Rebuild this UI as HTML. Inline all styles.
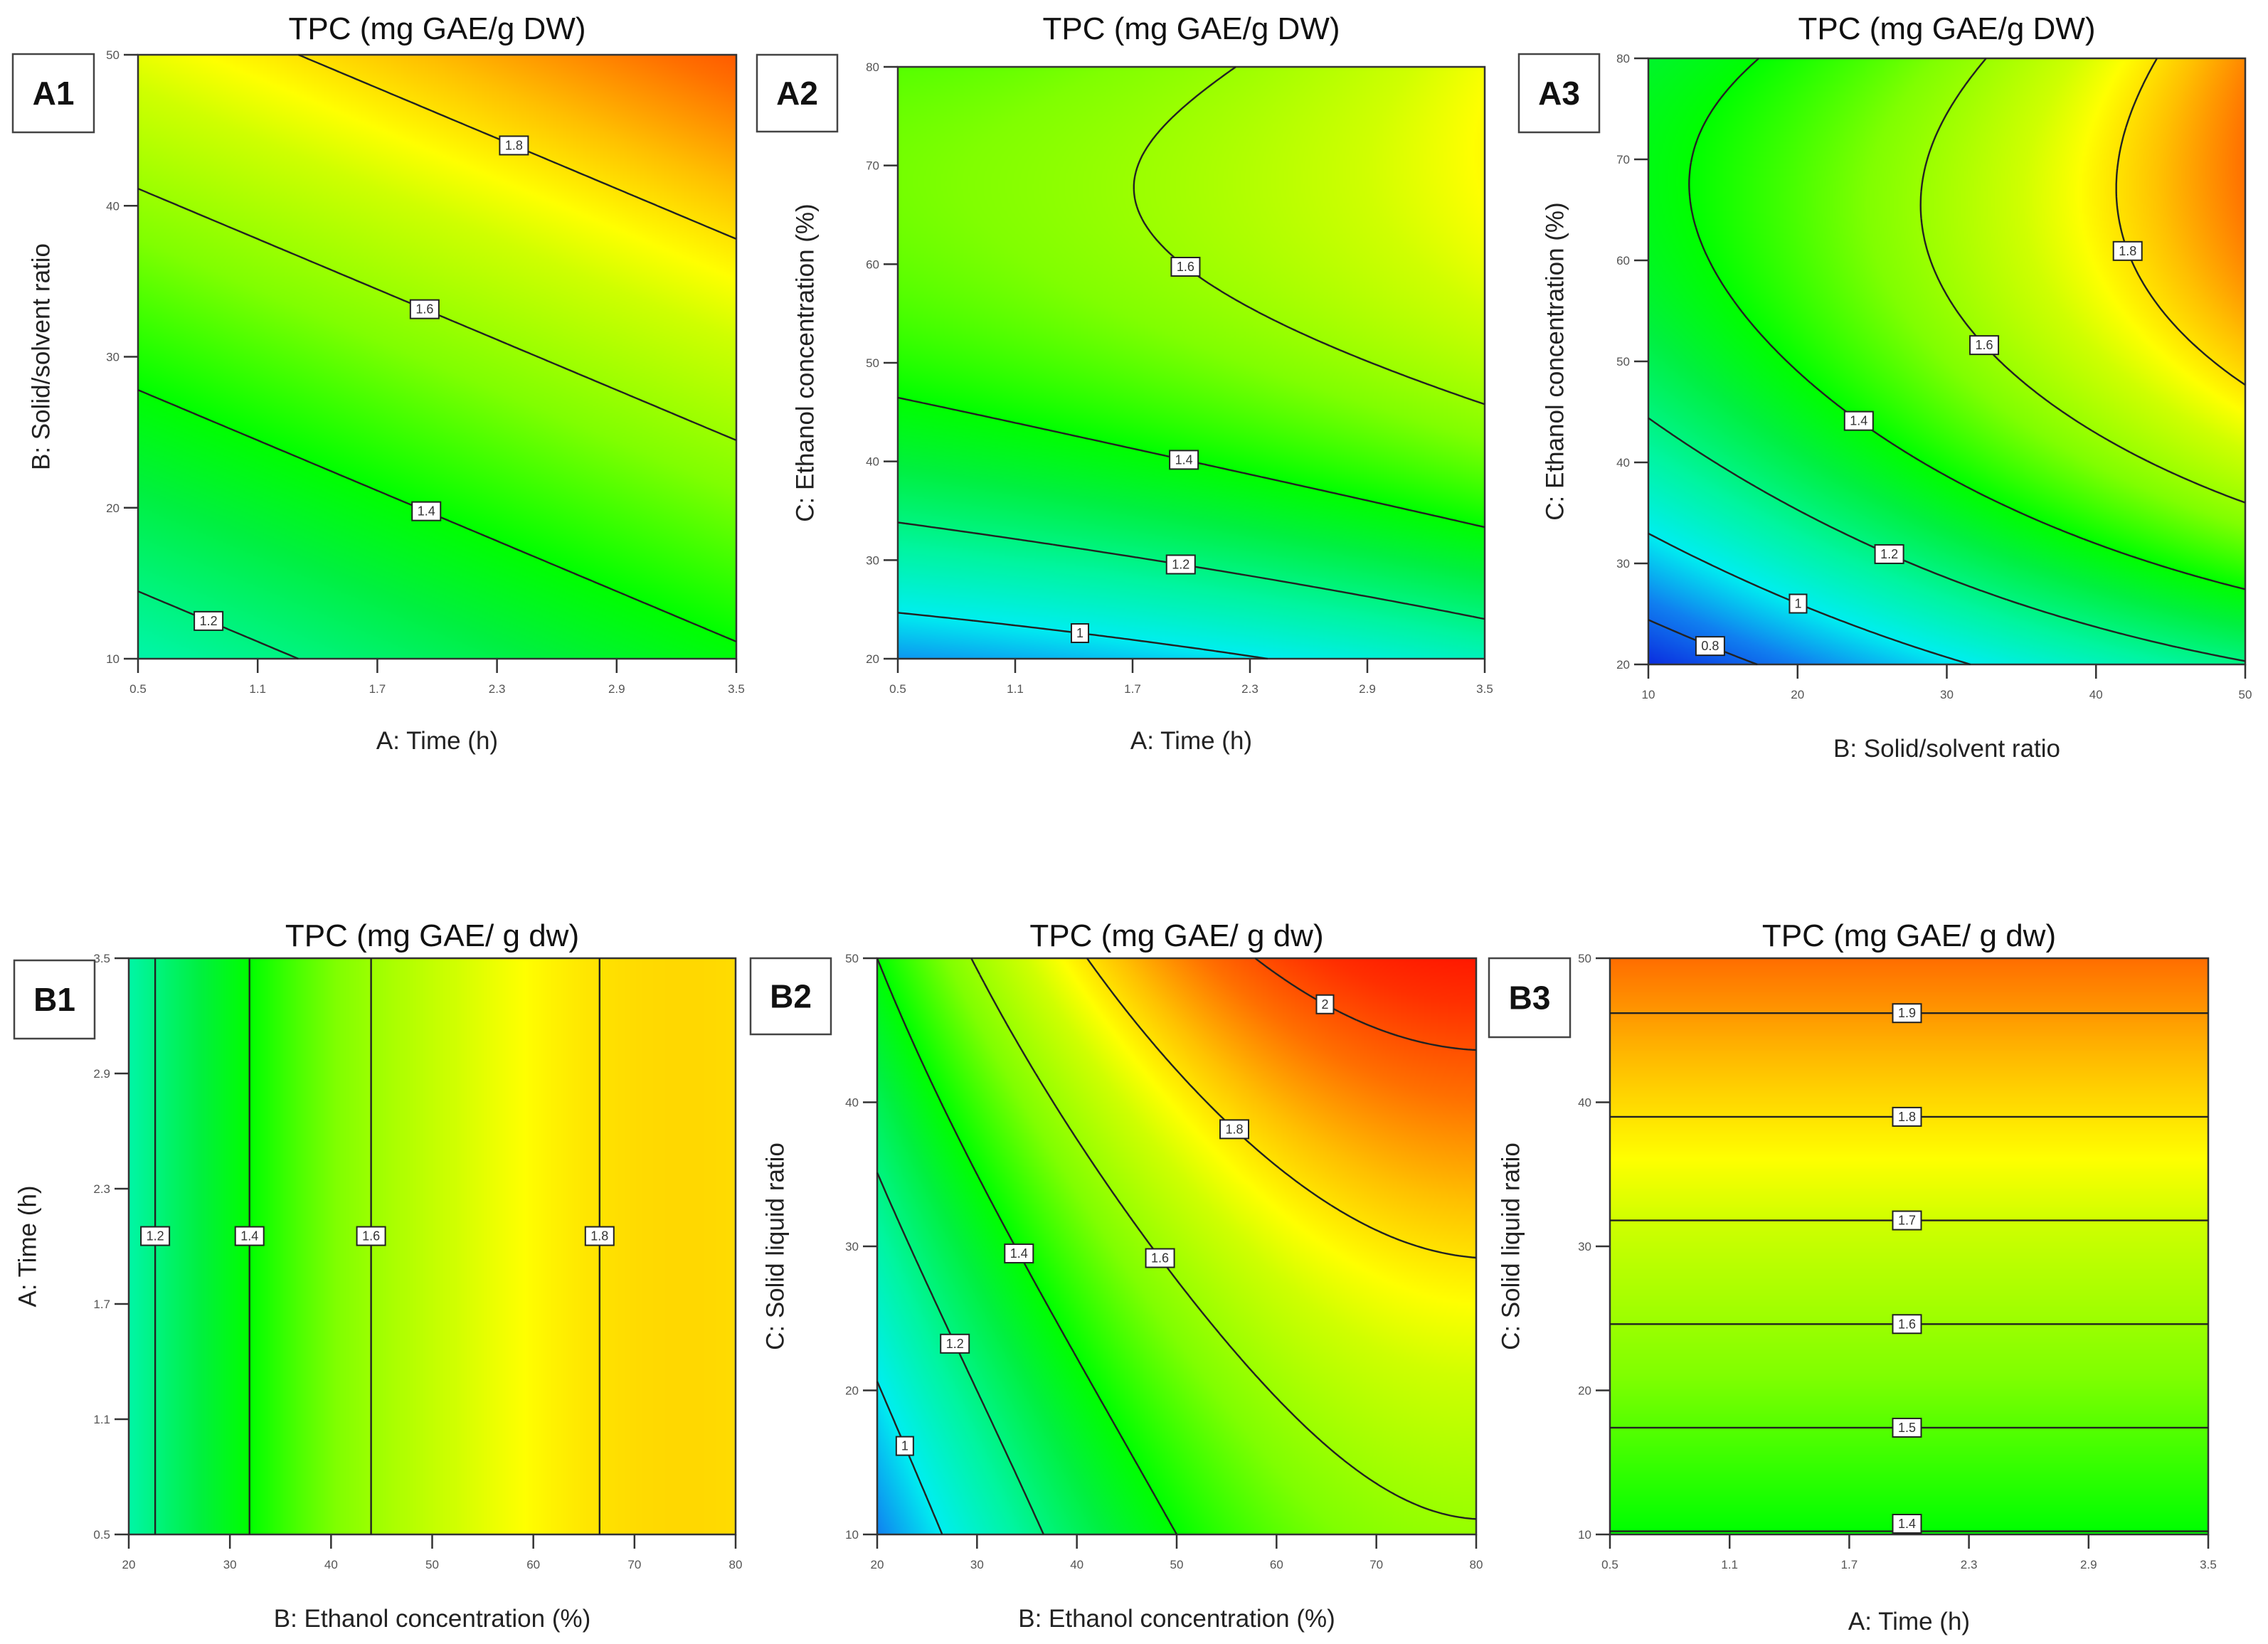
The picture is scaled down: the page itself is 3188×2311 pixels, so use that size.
<!DOCTYPE html>
<html><head><meta charset="utf-8">
<style>
html,body{margin:0;padding:0;background:#fff;}
#root{position:relative;width:3188px;height:2311px;overflow:hidden;background:#fff;font-family:"Liberation Sans",sans-serif;}
canvas{position:absolute;}
svg{position:absolute;left:0;top:0;}
</style></head>
<body>
<div id="root">
<svg id="svg" width="3188" height="2311"></svg>
</div>
<script>
// ---- data (response surface values on a 3x3 design grid: rows top(high y) -> bottom(low y), cols low x -> high x)
const a1Grid=[[1.733,1.858,1.983],[1.433,1.558,1.683],[1.133,1.258,1.383]];
const a2Grid=[[1.50,1.58,1.75],[1.44,1.53,1.65],[0.88,0.97,1.10]];
const a3Grid=[[1.33,1.56,1.92],[1.27,1.55,1.83],[0.68,0.98,1.19]];
const b1Grid=[[1.137,1.676,1.81],[1.137,1.676,1.81],[1.137,1.676,1.81]];
const b2Grid=[[1.40,1.92,2.10],[1.13,1.63,1.81],[0.85,1.40,1.59]];
const b3Grid=[[1.953,1.953,1.953],[1.675,1.675,1.675],[1.397,1.397,1.397]];
const a1Levels=[1.2,1.4,1.6,1.8];
const a2Levels=[1,1.2,1.4,1.6];
const a3Levels=[0.8,1,1.2,1.4,1.6,1.8];
const b1Levels=[1.2,1.4,1.6,1.8];
const b2Levels=[1,1.2,1.4,1.6,1.8,2];
const b3Levels=[1.4,1.5,1.6,1.7,1.8,1.9];
const timeTicks=["0.5","1.1","1.7","2.3","2.9","3.5"];
const ratioTicks=["10","20","30","40","50"];
const ethTicks=["20","30","40","50","60","70","80"];
const ethTicksA=["20","30","40","50","60","70","80"];

// ---- layout
const panels=[
 {id:"a1",grid:a1Grid,levels:a1Levels,xt:timeTicks,yt:ratioTicks,x0:194,x1:1035,y0:77,y1:926,box:[18,76,114,110],letter:"A1",
  title:"TPC (mg GAE/g DW)",tY:55,xTitle:"A: Time  (h)",xtY:1053,yTitle:"B: Solid/solvent ratio",ytX:58,
  hints:[[0.125,0.07],[0.484,0.256],[0.484,0.593],[0.634,0.868]]},
 {id:"a2",grid:a2Grid,levels:a2Levels,xt:timeTicks,yt:ethTicksA,x0:1262,x1:2087,y0:94,y1:926,box:[1064,77,113,108],letter:"A2",
  title:"TPC (mg GAE/g DW)",tY:55,xTitle:"A: Time  (h)",xtY:1053,yTitle:"C: Ethanol concentration (%)",ytX:1132,
  hints:[[0.313,0.064],[0.487,0.167],[0.487,0.332],[0.462,0.622]]},
 {id:"a3",grid:a3Grid,levels:a3Levels,xt:ratioTicks,yt:ethTicks,x0:2317,x1:3156,y0:82,y1:934,box:[2135,76,113,110],letter:"A3",
  title:"TPC (mg GAE/g DW)",tY:55,xTitle:"B: Solid/solvent ratio",xtY:1064,yTitle:"C: Ethanol concentration (%)",ytX:2186,
  hints:[[0.112,0.052],[0.262,0.123],[0.411,0.2],[0.358,0.414],[0.562,0.526],[0.789,0.679]]},
 {id:"b1",grid:b1Grid,levels:b1Levels,xt:ethTicks,yt:timeTicks,x0:181,x1:1034,y0:1347,y1:2157,box:[20,1350,113,110],letter:"B1",
  title:"TPC  (mg GAE/ g dw)",tY:1330,xTitle:"B: Ethanol concentration (%)",xtY:2287,yTitle:"A: Time (h)",ytX:39,
  hints:[[0.048,0.517],[0.2,0.517],[0.4,0.517],[0.771,0.517]]},
 {id:"b2",grid:b2Grid,levels:b2Levels,xt:ethTicks,yt:ratioTicks,x0:1233,x1:2075,y0:1347,y1:2157,box:[1055,1347,113,107],letter:"B2",
  title:"TPC  (mg GAE/ g dw)",tY:1330,xTitle:"B: Ethanol concentration (%)",xtY:2287,yTitle:"C: Solid liquid ratio",ytX:1090,
  hints:[[0.048,0.153],[0.123,0.329],[0.217,0.478],[0.443,0.454],[0.563,0.666],[0.736,0.891]]},
 {id:"b3",grid:b3Grid,levels:b3Levels,xt:timeTicks,yt:ratioTicks,x0:2263,x1:3104,y0:1347,y1:2157,box:[2093,1347,114,111],letter:"B3",
  title:"TPC  (mg GAE/ g dw)",tY:1330,xTitle:"A: Time (h)",xtY:2291,yTitle:"C: Solid liquid ratio",ytX:2124,
  hints:[[0.5,0.02],[0.5,0.186],[0.5,0.365],[0.5,0.545],[0.5,0.724],[0.5,0.9]]}
];

const stops=[[0.65,[10,30,220]],[0.85,[16,128,240]],[1.0,[0,238,240]],[1.15,[0,245,160]],[1.3,[0,240,64]],[1.4,[0,255,0]],
 [1.55,[128,255,0]],[1.7,[208,255,0]],[1.76,[255,255,0]],[1.85,[255,192,0]],[1.95,[255,112,0]],[2.05,[255,48,0]],[2.12,[255,16,0]]];
function color(v){
  if(v<=stops[0][0])return stops[0][1];
  for(let i=1;i<stops.length;i++){if(v<=stops[i][0]){const a=stops[i-1],b=stops[i];const t=(v-a[0])/(b[0]-a[0]);
    return [0,1,2].map(k=>a[1][k]+(b[1][k]-a[1][k])*t);}}
  return stops[stops.length-1][1];
}
function L(t){return [(t-0.5)*(t-1)/0.5, t*(t-1)/(-0.25), t*(t-0.5)/0.5];}
function surf(g,u,v){const lu=L(u),lv=L(v);let s=0;for(let i=0;i<3;i++)for(let j=0;j<3;j++)s+=lv[i]*lu[j]*g[2-i][j];return s;}

const NS="http://www.w3.org/2000/svg";
const svg=document.getElementById('svg');
const root=document.getElementById('root');
function mk(tag,attrs,parent){const e=document.createElementNS(NS,tag);for(const k in attrs)e.setAttribute(k,attrs[k]);(parent||svg).appendChild(e);return e;}

panels.forEach(p=>{
  const W=p.x1-p.x0,H=p.y1-p.y0;
  const g=mk('g',{});
  
  
  const cv=document.createElement('canvas');
  cv.width=Math.round(W/2);cv.height=Math.round(H/2);
  cv.style.left=p.x0+'px';cv.style.top=p.y0+'px';cv.style.width=W+'px';cv.style.height=H+'px';
  
  
  root.insertBefore(cv,svg);
  const ctx=cv.getContext('2d');const im=ctx.createImageData(cv.width,cv.height);
  for(let y=0;y<cv.height;y++)for(let x=0;x<cv.width;x++){
    const u=(x+0.5)/cv.width,v=1-(y+0.5)/cv.height;const c=color(surf(p.grid,u,v));const o=(y*cv.width+x)*4;
    im.data[o]=c[0];im.data[o+1]=c[1];im.data[o+2]=c[2];im.data[o+3]=255;}
  ctx.putImageData(im,0,0);
  const fr=mk('rect',{x:p.x0,y:p.y0,width:W,height:H,fill:'none',stroke:'#333','stroke-width':2.5},g);
  
  
  const N=140;const vals=[];
  for(let i=0;i<=N;i++){vals.push([]);for(let j=0;j<=N;j++)vals[i].push(surf(p.grid,j/N,1-i/N));}
  const px=j=>p.x0+j/N*W, py=i=>p.y0+i/N*H;
  p.levels.forEach((lv,li)=>{
    let d='';const segs=[];
    for(let i=0;i<N;i++){for(let j=0;j<N;j++){
      const c=[[i,j],[i,j+1],[i+1,j+1],[i+1,j]];const pts=[];
      for(let e=0;e<4;e++){const A=c[e],B=c[(e+1)%4];const va=vals[A[0]][A[1]],vb=vals[B[0]][B[1]];
        if((va<lv)!==(vb<lv)){const t=(lv-va)/(vb-va);pts.push([px(A[1]+(B[1]-A[1])*t),py(A[0]+(B[0]-A[0])*t)]);}}
      for(let k=0;k+1<pts.length;k+=2){segs.push([pts[k],pts[k+1]]);d+='M'+pts[k][0].toFixed(1)+' '+pts[k][1].toFixed(1)+'L'+pts[k+1][0].toFixed(1)+' '+pts[k+1][1].toFixed(1);}
    }}
    if(!d)return;
    const path=mk('path',{d:d,fill:'none',stroke:'#222','stroke-width':2.4},g);
    
    
    const h=p.hints[li];if(!h)return;
    const hx=p.x0+h[0]*W,hy=p.y1-h[1]*H;let best=null,bd=1e9;
    segs.forEach(s=>{const mx=(s[0][0]+s[1][0])/2,my=(s[0][1]+s[1][1])/2;const dd=(mx-hx)**2+(my-hy)**2;if(dd<bd){bd=dd;best=[mx,my];}});
    if(!best)return;
    const txt=String(lv);const bw=txt.length>1?40:24,bh=26;
    let bx=Math.min(Math.max(best[0]-bw/2,p.x0+2),p.x1-bw-2),by=Math.min(Math.max(best[1]-bh/2,p.y0+2),p.y1-bh-2);
    const lg=mk('g',{},g);
    
    
    mk('rect',{x:bx,y:by,width:bw,height:bh,fill:'#fff',stroke:'#222','stroke-width':2},lg);
    const t=mk('text',{x:bx+bw/2,y:by+19,'text-anchor':'middle','font-size':18,fill:'#333','font-family':'Liberation Sans, sans-serif'},lg);t.textContent=txt;
  });
  p.xt.forEach((lab,k)=>{const x=p.x0+k/(p.xt.length-1)*W;
    const tk=mk('line',{x1:x,y1:p.y1,x2:x,y2:p.y1+20,stroke:'#333','stroke-width':2.5},g);
    
    
    const t=mk('text',{x:x,y:p.y1+48,'text-anchor':'middle','font-size':17,fill:'#555'},g);t.textContent=lab;
    
    });
  p.yt.forEach((lab,k)=>{const y=p.y1-k/(p.yt.length-1)*H;
    const tk=mk('line',{x1:p.x0-20,y1:y,x2:p.x0,y2:y,stroke:'#333','stroke-width':2.5},g);
    
    
    const t=mk('text',{x:p.x0-26,y:y+6,'text-anchor':'end','font-size':17,fill:'#555'},g);t.textContent=lab;
    
    });
  const tt=mk('text',{x:(p.x0+p.x1)/2,y:p.tY,'text-anchor':'middle','font-size':44,fill:'#111'},g);tt.textContent=p.title;
  
  
  const xt=mk('text',{x:(p.x0+p.x1)/2,y:p.xtY,'text-anchor':'middle','font-size':35,fill:'#222'},g);xt.textContent=p.xTitle;
  
  
  const cy=(p.y0+p.y1)/2;
  const yt=mk('text',{x:p.ytX,y:cy,'text-anchor':'middle','font-size':35,fill:'#222',transform:'rotate(-90 '+p.ytX+' '+cy+')','dominant-baseline':'central'},g);yt.textContent=p.yTitle;
  
  
  const bg=mk('g',{},g);
  
  
  mk('rect',{x:p.box[0],y:p.box[1],width:p.box[2],height:p.box[3],fill:'#fff',stroke:'#444','stroke-width':2.5},bg);
  const bt=mk('text',{x:p.box[0]+p.box[2]/2,y:p.box[1]+p.box[3]/2+16,'text-anchor':'middle','font-size':46,'font-weight':'bold',fill:'#111'},bg);bt.textContent=p.letter;
});
</script>
</body></html>
